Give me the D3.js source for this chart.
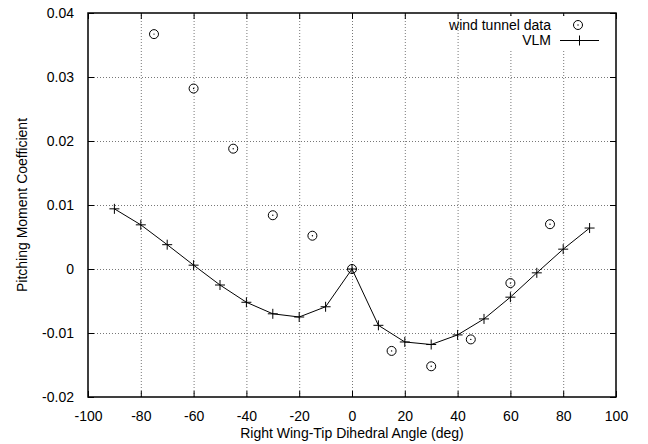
<!DOCTYPE html>
<html lang="en">
  <head>
    <meta charset="utf-8"/>
    <script src="https://d3js.org/d3.v7.min.js"></script>
    <title>Pitching Moment vs Dihedral Angle</title>
  </head>
  <body style="margin:0;background:#fff">
    <div id="chart"></div>
  </body>
</html>

<script>
  const width = 648;
  const height = 444;
  const margin = {top: 13, right: 32, bottom: 47, left: 88};

  // wind tunnel data
  const tunnelAngle = [-75, -60, -45, -30, -15, 0, 15, 30, 45, 60, 75];
  const tunnelCm = [0.0367, 0.0282, 0.0188, 0.0084, 0.0052, 0, -0.0128, -0.0152, -0.0110, -0.0022, 0.0070];

  // VLM result
  const vlmAngle = [-90, -80, -70, -60, -50, -40, -30, -20, -10, 0, 10, 20, 30, 40, 50, 60, 70, 80, 90];
  const vlmCm = [0.0094, 0.0069, 0.0038, 0.0006, -0.0025, -0.0052, -0.0070, -0.0075, -0.0059, 0,
                 -0.0088, -0.0114, -0.0118, -0.0103, -0.0078, -0.0044, -0.0006, 0.0031, 0.0064];

  const xTicks = [-100, -80, -60, -40, -20, 0, 20, 40, 60, 80, 100];
  const yTicks = [-0.02, -0.01, 0, 0.01, 0.02, 0.03, 0.04];

  const font = "'Liberation Sans', Arial, Helvetica, sans-serif";

  const svg = d3.select("#chart").append("svg")
    .attr("width", width)
    .attr("height", height)
    .style("font-family", font);

  const x = d3.scaleLinear().domain([-100, 100]).range([margin.left, width - margin.right]);
  const y = d3.scaleLinear().domain([-0.02, 0.04]).range([height - margin.bottom, margin.top]);

  // grid
  const grid = svg.append("g")
    .attr("stroke", "#777")
    .attr("stroke-width", 1)
    .attr("stroke-dasharray", "1,2");

  grid.selectAll(".gx")
    .data(xTicks.slice(1, -1))
    .enter().append("line")
    .attr("x1", (d) => x(d) + 0.5).attr("x2", (d) => x(d) + 0.5)
    .attr("y1", y.range()[0]).attr("y2", y.range()[1]);

  grid.selectAll(".gy")
    .data(yTicks.slice(1, -1))
    .enter().append("line")
    .attr("y1", (d) => y(d) + 0.5).attr("y2", (d) => y(d) + 0.5)
    .attr("x1", x.range()[0]).attr("x2", x.range()[1]);

  // axes (inner ticks, mirrored)
  const styleAxis = (g) => {
    g.select(".domain").remove();
    g.selectAll("line").attr("stroke", "#000").attr("stroke-width", 1);
    g.selectAll("text").style("font-size", "14px").attr("fill", "#000").style("font-family", font);
  };

  svg.append("g")
    .attr("transform", "translate(0," + y.range()[0] + ")")
    .call(d3.axisBottom(x).tickValues(xTicks).tickSize(-6).tickPadding(14).tickFormat((d) => String(d)))
    .call(styleAxis);

  svg.append("g")
    .attr("transform", "translate(0," + y.range()[1] + ")")
    .call(d3.axisTop(x).tickValues(xTicks).tickSize(-6).tickFormat(""))
    .call(styleAxis);

  svg.append("g")
    .attr("transform", "translate(" + x.range()[0] + ",0)")
    .call(d3.axisLeft(y).tickValues(yTicks).tickSize(-6).tickPadding(14)
      .tickFormat((d) => Math.abs(d) < 1e-9 ? "0" : d.toFixed(2)))
    .call(styleAxis);

  svg.append("g")
    .attr("transform", "translate(" + x.range()[1] + ",0)")
    .call(d3.axisRight(y).tickValues(yTicks).tickSize(-6).tickFormat(""))
    .call(styleAxis);

  // frame
  svg.append("rect")
    .attr("x", x.range()[0]).attr("y", y.range()[1])
    .attr("width", x.range()[1] - x.range()[0])
    .attr("height", y.range()[0] - y.range()[1])
    .attr("fill", "none")
    .attr("stroke", "#000")
    .attr("stroke-width", 1.5);

  // VLM line
  const vlm = vlmAngle.map((a, i) => ({a: a, c: vlmCm[i]}));
  const line = d3.line().x((d) => x(d.a)).y((d) => y(d.c));

  svg.append("path")
    .datum(vlm)
    .attr("fill", "none")
    .attr("stroke", "#000")
    .attr("stroke-width", 1)
    .attr("d", line);

  const plus = (g, px, py) => {
    g.append("path")
      .attr("d", "M" + (px - 5) + "," + py + "H" + (px + 5) + "M" + px + "," + (py - 5) + "V" + (py + 5))
      .attr("stroke", "#000")
      .attr("stroke-width", 1);
  };

  const markers = svg.append("g");
  vlm.forEach((d) => plus(markers, x(d.a), y(d.c)));

  // wind tunnel circles
  const circ = (g, px, py) => {
    g.append("circle").attr("cx", px).attr("cy", py).attr("r", 4.5)
      .attr("fill", "none").attr("stroke", "#000").attr("stroke-width", 1);
    g.append("circle").attr("cx", px).attr("cy", py).attr("r", 0.7).attr("fill", "#000");
  };

  const dots = svg.append("g");
  tunnelAngle.forEach((a, i) => circ(dots, x(a), y(tunnelCm[i])));

  // legend
  const legend = svg.append("g").style("font-size", "14px");
  legend.append("rect").attr("x", 462).attr("y", 16).attr("width", 150).attr("height", 33).attr("fill", "#fff");
  legend.append("text").attr("x", 551).attr("y", 30).attr("text-anchor", "end").text("wind tunnel data");
  circ(legend, 578, 25);
  legend.append("text").attr("x", 551).attr("y", 45).attr("text-anchor", "end").text("VLM");
  legend.append("line").attr("x1", 560).attr("x2", 599).attr("y1", 40.5).attr("y2", 40.5)
    .attr("stroke", "#000").attr("stroke-width", 1);
  plus(legend, 579.5, 40.5);

  // axis titles
  svg.append("text")
    .attr("x", (x.range()[0] + x.range()[1]) / 2)
    .attr("y", 438)
    .attr("text-anchor", "middle")
    .style("font-size", "14px")
    .text("Right Wing-Tip Dihedral Angle (deg)");

  svg.append("text")
    .attr("transform", "translate(27," + (y.range()[0] + y.range()[1]) / 2 + ") rotate(-90)")
    .attr("text-anchor", "middle")
    .style("font-size", "14px")
    .text("Pitching Moment Coefficient");
</script>
